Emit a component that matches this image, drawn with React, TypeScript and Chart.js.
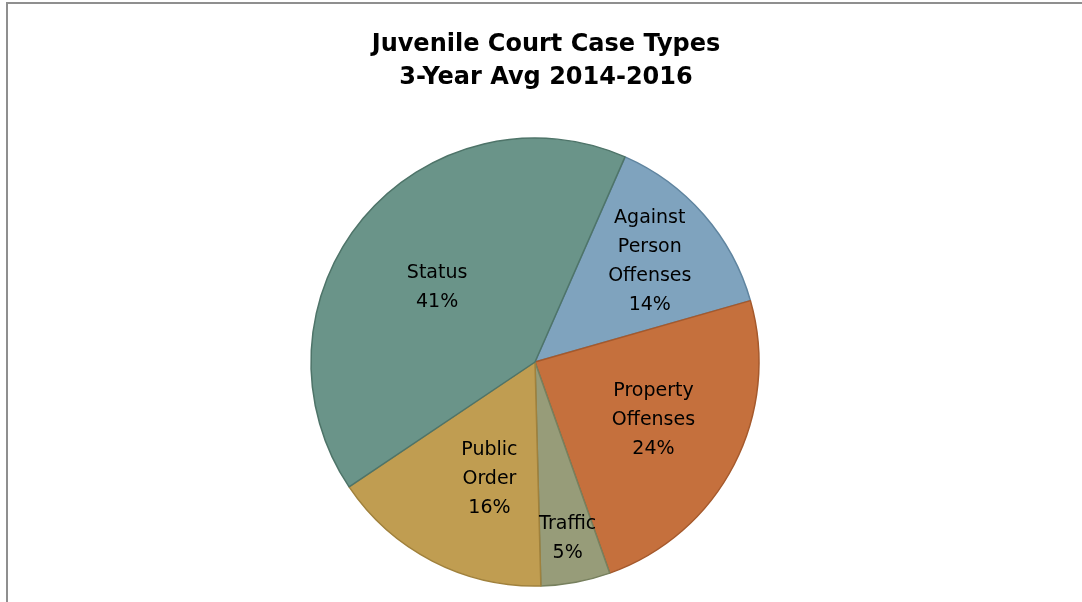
import React, { useEffect, useRef } from "react";
import { Chart, registerables } from "chart.js";

Chart.register(...registerables);

const categories = ["Against Person Offenses", "Property Offenses", "Traffic", "Public Order", "Status"];
const labelLines = [["Against", "Person", "Offenses"], ["Property", "Offenses"], ["Traffic"], ["Public", "Order"], ["Status"]];
const values = [14, 24, 5, 16, 41];
const titleLines = ["Juvenile Court Case Types", "3-Year Avg 2014-2016"];

const fillColors = ["#7fa3be", "#c5703d", "#979c79", "#c09d51", "#6a9489"];
const borderColors = ["#5f849f", "#a5592c", "#77805e", "#a0813c", "#4e7469"];
const labelRadius = [0.68, 0.59, 0.8, 0.56, 0.55];
const labelAngleOffsetDeg = [0, -1, 0, -6, -2.5];

const FONT = "'DejaVu Sans', sans-serif";

const titlePlugin = {
  id: "titleText",
  afterDraw(chart: any) {
    const ctx = chart.ctx;
    ctx.save();
    ctx.fillStyle = "#000";
    ctx.font = `bold 24px ${FONT}`;
    ctx.textAlign = "center";
    ctx.textBaseline = "alphabetic";
    ctx.fillText(titleLines[0], 546, 51);
    ctx.fillText(titleLines[1], 546, 84);
    ctx.restore();
  },
};

const labelPlugin = {
  id: "sliceLabels",
  afterDatasetsDraw(chart: any) {
    const ctx = chart.ctx;
    const meta = chart.getDatasetMeta(0);
    const data = chart.data.datasets[0].data as number[];
    const total = data.reduce((a: number, b: number) => a + b, 0);
    ctx.save();
    ctx.fillStyle = "#000";
    ctx.font = `19px ${FONT}`;
    ctx.textAlign = "center";
    ctx.textBaseline = "middle";
    meta.data.forEach((arc: any, i: number) => {
      const { x, y, startAngle, endAngle, outerRadius } = arc.getProps(["x", "y", "startAngle", "endAngle", "outerRadius"], true);
      const mid = (startAngle + endAngle) / 2 + (labelAngleOffsetDeg[i] * Math.PI) / 180;
      const r = outerRadius * labelRadius[i];
      const cx = x + Math.cos(mid) * r;
      const cy = y + Math.sin(mid) * r;
      const lines = [...labelLines[i], Math.round((data[i] / total) * 100) + "%"];
      const lh = 29;
      const startY = cy - ((lines.length - 1) * lh) / 2;
      lines.forEach((t, k) => ctx.fillText(t, cx, startY + k * lh));
    });
    ctx.restore();
  },
};

export default function App() {
  const ref = useRef<HTMLCanvasElement>(null);
  useEffect(() => {
    if (!ref.current) return;
    const chart = new Chart(ref.current, {
      type: "pie",
      data: {
        labels: categories,
        datasets: [
          {
            data: values,
            backgroundColor: fillColors,
            borderColor: borderColors,
            borderWidth: 1.5,
          },
        ],
      },
      options: {
        animation: false,
        responsive: false,
        rotation: 23.7,
        radius: 224,
        layout: { padding: { left: 0, right: 12, top: 122, bottom: 0 } },
        plugins: {
          legend: { display: false },
          tooltip: { enabled: false },
          title: { display: false },
        },
      },
      plugins: [labelPlugin, titlePlugin],
    });
    return () => chart.destroy();
  }, []);
  return (
    <div style={{ position: "fixed", left: 0, top: 0, width: 1082, height: 602, background: "#fff" }}>
      <canvas ref={ref} width={1082} height={602} style={{ position: "absolute", left: 0, top: 0 }} />
      <div
        style={{
          position: "absolute",
          left: 6,
          top: 2,
          width: 1076,
          height: 600,
          borderTop: "2px solid #8f8f8f",
          borderLeft: "2px solid #8f8f8f",
          boxSizing: "border-box",
          pointerEvents: "none",
        }}
      />
    </div>
  );
}
